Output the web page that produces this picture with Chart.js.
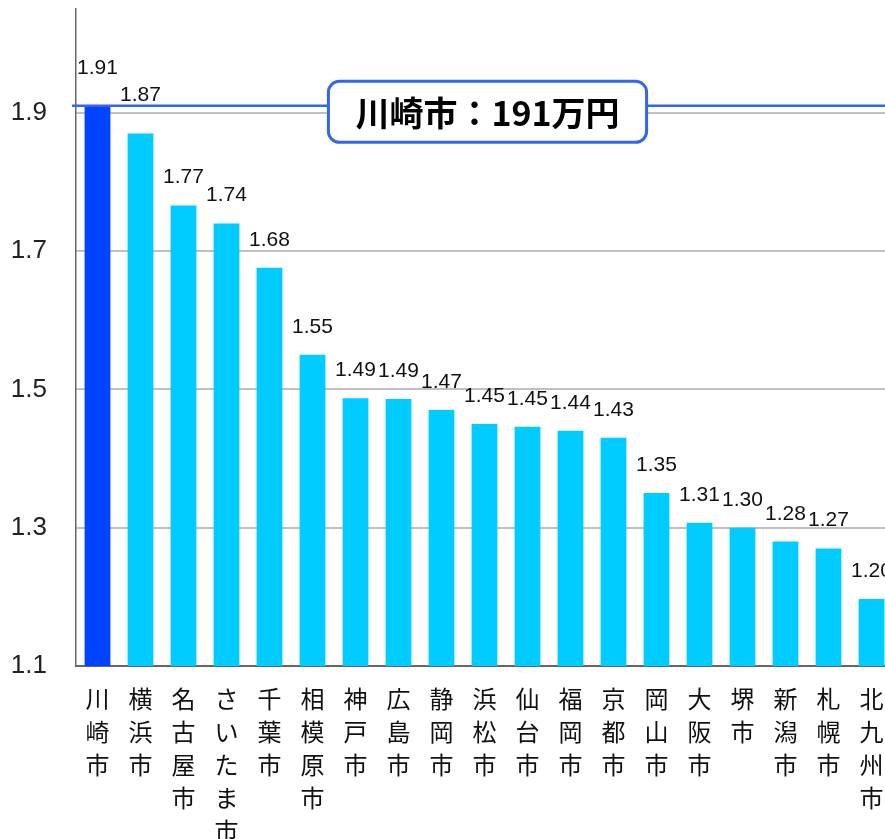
<!DOCTYPE html>
<html><head><meta charset="utf-8">
<script src="https://cdn.jsdelivr.net/npm/chart.js@4/dist/chart.umd.min.js"></script>
<style>html,body{margin:0;padding:0;overflow:hidden;background:#fff}#wrap{position:relative;width:893px;height:839px}</style>
</head><body><div id="wrap"><canvas id="c"></canvas></div>
<script>
const cities = ['川崎市','横浜市','名古屋市','さいたま市','千葉市','相模原市','神戸市','広島市','静岡市','浜松市','仙台市','福岡市','京都市','岡山市','大阪市','堺市','新潟市','札幌市','北九州市'];
const values = [1.91,1.87,1.766,1.74,1.676,1.55,1.487,1.486,1.47,1.45,1.446,1.44,1.43,1.35,1.307,1.30,1.28,1.27,1.197];
const tickValues = [1.1,1.3,1.5,1.7,1.9];
const highlightCity = '川崎市';
const highlightText = '川崎市：191万円';

const hiIdx = cities.indexOf(highlightCity);
const barColors = cities.map((c,i)=> i===hiIdx ? '#0044ff' : '#00ccff');

const overlay = {
  id:'overlay',
  afterDatasetsDraw(chart){
    const ctx = chart.ctx, ca = chart.chartArea, ys = chart.scales.y;
    const lineY = ys.getPixelForValue(values[hiIdx]);
    ctx.save();
    ctx.strokeStyle = '#3366ee'; ctx.lineWidth = 2.5;
    ctx.beginPath(); ctx.moveTo(ca.left-4, lineY); ctx.lineTo(chart.width, lineY); ctx.stroke();
    ctx.font = '21px "Liberation Sans", Arial, sans-serif';
    ctx.fillStyle = '#111'; ctx.textAlign='center'; ctx.textBaseline='alphabetic';
    const meta = chart.getDatasetMeta(0);
    meta.data.forEach((bar,i)=>{
      let off = 22;
      if (bar.y - lineY < 40) off += 10;
      ctx.fillText(values[i].toFixed(2), bar.x, bar.y - off);
    });
    ctx.font = 'bold 34px "Noto Sans CJK JP", sans-serif';
    const tw = ctx.measureText(highlightText).width;
    const bw = tw + 54, bh = 61;
    const cx = (ca.left + ca.right)/2 + 3, cy = lineY + 6;
    const bx = cx - bw/2, by = cy - bh/2, r = 11;
    ctx.beginPath();
    ctx.moveTo(bx+r,by); ctx.lineTo(bx+bw-r,by); ctx.arcTo(bx+bw,by,bx+bw,by+r,r);
    ctx.lineTo(bx+bw,by+bh-r); ctx.arcTo(bx+bw,by+bh,bx+bw-r,by+bh,r);
    ctx.lineTo(bx+r,by+bh); ctx.arcTo(bx,by+bh,bx,by+bh-r,r);
    ctx.lineTo(bx,by+r); ctx.arcTo(bx,by,bx+r,by,r); ctx.closePath();
    ctx.fillStyle='#fff'; ctx.fill();
    ctx.strokeStyle='#3366ee'; ctx.lineWidth=3; ctx.stroke();
    ctx.fillStyle='#000'; ctx.textAlign='center'; ctx.textBaseline='middle';
    ctx.fillText(highlightText, cx, cy+1);
    ctx.restore();
  }
};

new Chart(document.getElementById('c'), {
  type:'bar',
  data:{
    labels: cities.map(c=>Array.from(c)),
    datasets:[{data: values, backgroundColor: barColors, borderWidth:0, barPercentage:0.6, categoryPercentage:1.0}]
  },
  options:{
    responsive:true, maintainAspectRatio:false, animation:false,
    layout:{padding:{top:9,left:0,right:0,bottom:0}},
    plugins:{legend:{display:false}, tooltip:{enabled:false}},
    scales:{
      x:{
        grid:{display:false, drawTicks:false},
        border:{color:'#666', width:2},
        ticks:{font:{family:'"Noto Sans CJK JP", sans-serif', size:24, lineHeight:1.375}, color:'#111', padding:16, maxRotation:0, minRotation:0, autoSkip:false},
        afterFit:s=>{s.height = 839-666; s.paddingLeft=0; s.paddingRight=0;}
      },
      y:{
        min:1.1, max:2.05,
        afterBuildTicks:s=>{s.ticks = tickValues.map(v=>({value:v}));},
        grid:{color:'#c0c0c0', lineWidth:2, drawTicks:false},
        border:{color:'#666', width:1.5},
        ticks:{font:{family:'"Liberation Sans", Arial, sans-serif', size:26}, color:'#222', padding:29, callback:v=>Number(v).toFixed(1)},
        afterFit:s=>{s.width=76; s.paddingTop=0; s.paddingBottom=0;}
      }
    }
  },
  plugins:[overlay]
});
</script></body></html>
